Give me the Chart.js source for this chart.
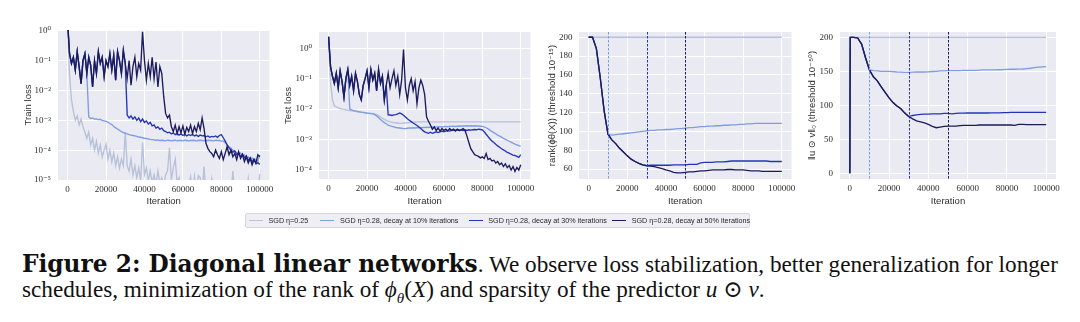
<!DOCTYPE html>
<html><head><meta charset="utf-8">
<script src="https://cdn.jsdelivr.net/npm/chart.js@4.4.1/dist/chart.umd.min.js"></script>
<style>
html,body{margin:0;padding:0;background:#fff;}
body{width:1080px;height:322px;position:relative;overflow:hidden;}
canvas{position:absolute;top:0;}
#legend{position:absolute;left:245px;top:213px;width:505px;height:15px;box-sizing:border-box;background:#eeeef4;border:1px solid #d6d6dc;border-radius:2px;font-family:'Liberation Sans','DejaVu Sans',sans-serif;font-size:7.2px;color:#262626;z-index:5;}
.lg-line{position:absolute;top:6px;height:0;width:14px;}
.lg-text{position:absolute;top:0;line-height:13px;white-space:nowrap;}
.cap{position:absolute;left:22px;font-family:'Liberation Serif','DejaVu Serif',serif;white-space:nowrap;color:#111;line-height:22px;}
#capBold{font-family:'DejaVu Serif','Liberation Serif',serif;font-weight:bold;}
</style></head>
<body>
<div id="legend"></div>
<div id="cap1" class="cap" style="top:253px;"><span id="capBold">Figure 2: Diagonal linear networks</span><span id="capRest">. We observe loss stabilization, better generalization for longer</span></div>
<div id="cap2" class="cap" style="top:278px;">schedules, minimization of the rank of <i>ϕ<sub style="font-size:65%">θ</sub></i>(<i>X</i>) and sparsity of the predictor <i>u</i> ⊙ <i>v</i>.</div>
<script>
// ---------------- DATA ----------------
const seriesNames = ['SGD η=0.25', 'SGD η=0.28, decay at 10% iterations', 'SGD η=0.28, decay at 30% iterations', 'SGD η=0.28, decay at 50% iterations'];
const decayIters = [10000, 30000, 50000];

const xTicks = [0, 20000, 40000, 60000, 80000, 100000];
const xTickLabels = ['0', '20000', '40000', '60000', '80000', '100000'];

const trainTicks = [1e-5, 1e-4, 1e-3, 1e-2, 1e-1, 1];
const trainTickLabels = ['10⁻⁵', '10⁻⁴', '10⁻³', '10⁻²', '10⁻¹', '10⁰'];
const testTicks = [1e-4, 1e-3, 1e-2, 1e-1, 1];
const testTickLabels = ['10⁻⁴', '10⁻³', '10⁻²', '10⁻¹', '10⁰'];
const rankTicks = [60, 80, 100, 120, 140, 160, 180, 200];
const rankTickLabels = ['60', '80', '100', '120', '140', '160', '180', '200'];
const normTicks = [0, 50, 100, 150, 200];
const normTickLabels = ['0', '50', '100', '150', '200'];

const lossIters = [0,1000,2000,3000,4000,5000,6000,7000,8000,9000,
 10000,11000,12000,13000,14000,15000,16000,17000,18000,19000,
 20000,21000,22000,23000,24000,25000,26000,27000,28000,29000,
 30000,31000,32000,33000,34000,35000,36000,37000,38000,39000,
 40000,41000,42000,43000,44000,45000,46000,47000,48000,49000,
 50000,51000,52000,53000,54000,55000,56000,57000,58000,59000,
 60000,61000,62000,63000,64000,65000,66000,67000,68000,69000,
 70000,71000,72000,73000,74000,75000,76000,77000,78000,79000,
 80000,81000,82000,83000,84000,85000,86000,87000,88000,89000,
 90000,91000,92000,93000,94000,95000,96000,97000,98000,99000,
 100000];

// Train loss
const trainSgd025 = [1.5, 0.033, 5e-3, 2e-3, 1e-3, 1.4e-3, 7e-4, 1.1e-3, 6e-4, 4e-4,
 2.5e-4, 4e-4, 1.5e-4, 2.5e-4, 1e-4, 2e-4, 8e-5, 1.5e-4, 6e-5, 1e-4,
 1.6e-4, 5e-5, 1e-4, 4e-5, 8e-5, 3e-5, 6e-5, 2.5e-5, 5e-5, 3e-5,
 4e-4, 3e-5, 2e-5, 5e-5, 1.5e-5, 3e-5, 1.2e-5, 2.5e-5, 1e-5, 1.8e-4,
 1.5e-5, 2.5e-5, 1e-5, 2e-5, 8e-6, 1.5e-5, 7e-6, 2e-5, 8e-6, 1.2e-5,
 6e-6, 1.5e-5, 2e-5, 1.2e-4, 1e-5, 2.5e-5, 5e-5, 8e-6, 1.2e-5, 5e-6,
 4e-6, 8e-6, 3e-6, 6e-6, 1.3e-5, 4e-6, 1.3e-5, 3e-6, 1.4e-5, 1.2e-5,
 4e-6, 2.8e-5, 3e-6, 5e-6, 3e-6, 1.1e-5, 4e-6, 3e-6, 5e-6, 3e-6,
 4e-6, 3e-6, 5e-6, 3e-6, 4e-6, 3e-6, 2e-5, 3e-6, 4e-6, 3e-6,
 5e-6, 3e-6, 4e-6, 3e-6, 1.1e-5, 3e-6, 4e-6, 3e-6, 5e-6, 3e-6,
 1.6e-5];
const trainDecay50 = [2.0, 0.17, 0.08, 0.13, 0.048, 0.2, 0.063, 0.017, 0.1, 0.17,
 0.037, 0.13, 0.07, 0.013, 0.1, 0.037, 0.2, 0.08, 0.13, 0.029,
 0.1, 0.063, 0.17, 0.048, 0.15, 0.022, 0.2, 0.1, 0.037, 0.22,
 0.08, 0.025, 0.1, 0.015, 0.063, 0.13, 0.029, 0.08, 0.048, 0.93,
 0.1, 0.022, 0.08, 0.029, 0.13, 0.025, 0.09, 0.013, 0.063, 0.037,
 0.0063, 0.0017, 0.0012, 0.0015, 6.1e-4, 4.2e-4, 6.9e-4, 3.6e-4, 6.1e-4, 3.8e-4,
 6.5e-4, 3.4e-4, 5.8e-4, 4.2e-4, 6.9e-4, 3.6e-4, 6.1e-4, 4.2e-4, 7.9e-4, 4.8e-4,
 1.2e-3, 5.3e-4, 1.7e-4, 1.15e-4, 8.9e-5, 7.8e-5, 6e-5, 1e-4, 7e-5, 5.3e-5,
 8.9e-5, 4.8e-5, 7.8e-5, 1.3e-4, 7e-5, 1e-4, 6e-5, 7.8e-5, 4.8e-5, 8.9e-5,
 5.3e-5, 7e-5, 4.1e-5, 6e-5, 3.7e-5, 5.3e-5, 3.2e-5, 4.8e-5, 3.7e-5, 7e-5,
 6e-5];
// from 30000 on
const trainDecay30Tail = [0.08, 1.5e-3, 1.2e-3, 1.4e-3, 1.1e-3, 1.3e-3, 1.0e-3, 1.2e-3, 9e-4, 1.1e-3,
 8.5e-4, 9.5e-4, 7.5e-4, 8.5e-4, 6.5e-4, 7e-4, 5.5e-4, 6e-4, 5e-4, 5.5e-4,
 4.5e-4, 4.2e-4, 3.8e-4, 4e-4, 3.5e-4, 3.8e-4, 3.3e-4, 3.6e-4, 3.2e-4, 3.5e-4,
 3.1e-4, 3.4e-4, 3e-4, 3.3e-4, 3.1e-4, 3.4e-4, 3e-4, 3.2e-4, 2.9e-4, 3.2e-4,
 3e-4, 3.1e-4, 2.8e-4, 3e-4, 2.7e-4, 2.9e-4, 2.8e-4, 3e-4, 2.7e-4, 3.1e-4,
 3.3e-4, 2.6e-4, 2e-4, 1.5e-4, 1.2e-4, 1e-4, 8.5e-5, 9.5e-5, 7e-5, 8e-5,
 6e-5, 7.5e-5, 5.5e-5, 6.5e-5, 4.5e-5, 5.5e-5, 4e-5, 5e-5, 3.5e-5, 3.8e-5,
 3.3e-5];
// from 10000 on
const trainDecay10Tail = [0.037, 1.3e-3, 1.15e-3, 1.2e-3, 1.1e-3, 1.12e-3, 1.05e-3, 1.08e-3, 1e-3, 9.6e-4,
 9.2e-4, 8.6e-4, 7.8e-4, 7.2e-4, 6.2e-4, 5.6e-4, 5.1e-4, 4.6e-4, 4.2e-4, 3.9e-4,
 3.7e-4, 3.5e-4, 3.3e-4, 3.2e-4, 3.1e-4, 3e-4, 2.9e-4, 2.75e-4, 2.7e-4, 2.6e-4,
 2.5e-4, 2.45e-4, 2.4e-4, 2.3e-4, 2.25e-4, 2.2e-4, 2.15e-4, 2.2e-4, 2.1e-4, 2.15e-4,
 2.1e-4, 2.05e-4, 2.15e-4, 2.1e-4, 2.05e-4, 2.1e-4, 2.15e-4, 2.05e-4, 2.1e-4, 2.1e-4,
 2.05e-4, 2.15e-4, 2.1e-4, 2.05e-4, 2.1e-4, 2.15e-4, 2.1e-4, 2.05e-4, 2.1e-4, 2.15e-4,
 2.1e-4, 2.05e-4, 2.1e-4, 2.15e-4, 2.1e-4, 2.1e-4, 2.05e-4, 2.15e-4, 2.1e-4, 2.1e-4,
 2e-4, 2e-4, 1.8e-4, 1.5e-4, 1.3e-4, 1.15e-4, 1e-4, 9e-5, 8.5e-5, 7.5e-5,
 8e-5, 6.5e-5, 7e-5, 5.5e-5, 6e-5, 5e-5, 5.5e-5, 4.5e-5, 5e-5, 4.2e-5,
 7e-5];

// Test loss
const testSgd025 = [1.5, 0.08, 0.02, 0.013, 0.012, 0.011, 0.0105, 0.01, 0.0098, 0.0095,
 0.0092, 0.009, 0.0088, 0.0086, 0.0084, 0.0082, 0.008, 0.0078, 0.0077, 0.0076,
 0.0075, 0.0074, 0.0073, 0.0072, 0.007, 0.0066, 0.006, 0.0055, 0.005, 0.0046,
 0.0043, 0.004, 0.0038, 0.0037, 0.0036, 0.0035, 0.0035, 0.0034, 0.0034, 0.0035,
 0.0035, 0.0036, 0.0036, 0.0037, 0.0037, 0.0037, 0.0038, 0.0038, 0.0038, 0.0038,
 0.0038, 0.0038, 0.0038, 0.0038, 0.0038, 0.0038, 0.0038, 0.0038, 0.0038, 0.0038,
 0.0038, 0.0038, 0.0038, 0.0038, 0.0038, 0.0038, 0.0038, 0.0038, 0.0038, 0.0038,
 0.0038, 0.0038, 0.0038, 0.0038, 0.0038, 0.0038, 0.0038, 0.0038, 0.0038, 0.0038,
 0.0038, 0.0038, 0.0038, 0.0038, 0.0038, 0.0038, 0.0038, 0.0038, 0.0038, 0.0038,
 0.0038, 0.0038, 0.0038, 0.0038, 0.0038, 0.0038, 0.0038, 0.0038, 0.0038, 0.0038,
 0.0038];
const testDecay50 = [2.4, 0.25, 0.12, 0.07, 0.15, 0.05, 0.18, 0.08, 0.025, 0.1,
 0.2, 0.06, 0.12, 0.04, 0.15, 0.08, 0.03, 0.02, 0.06, 0.1,
 0.18, 0.05, 0.2, 0.09, 0.15, 0.04, 0.2, 0.07, 0.12, 0.02,
 0.06, 0.15, 0.05, 0.1, 0.18, 0.06, 0.12, 0.03, 0.09, 0.9,
 0.05, 0.02, 0.06, 0.1, 0.04, 0.08, 0.015, 0.05, 0.09, 0.06,
 0.03, 5.5e-3, 4e-3, 3e-3, 2.2e-3, 2.6e-3, 2e-3, 2.4e-3, 1.9e-3, 2.3e-3,
 2e-3, 2.2e-3, 1.9e-3, 2.3e-3, 2e-3, 2.2e-3, 1.9e-3, 2.2e-3, 2e-3, 2.1e-3,
 2.3e-3, 2e-3, 1.3e-3, 8e-4, 5e-4, 4e-4, 3.2e-4, 3e-4, 2.8e-4, 2.5e-4,
 2.7e-4, 2.4e-4, 3.5e-4, 2.2e-4, 2.4e-4, 2e-4, 2.1e-4, 1.7e-4, 1.9e-4, 1.5e-4,
 1.7e-4, 1.3e-4, 1.6e-4, 1.2e-4, 1.4e-4, 1e-4, 1.3e-4, 9e-5, 1.2e-4, 1e-4,
 1.5e-4];
const testDecay30Tail = [0.06, 6.5e-3, 6.4e-3, 6.2e-3, 6.5e-3, 6.6e-3, 7e-3, 7.5e-3, 7e-3, 6.3e-3,
 5.5e-3, 4.8e-3, 4.3e-3, 3.9e-3, 3.5e-3, 3.2e-3, 2.9e-3, 2.6e-3, 2.3e-3, 2e-3,
 1.8e-3, 1.7e-3, 1.6e-3, 1.75e-3, 1.6e-3, 1.7e-3, 1.8e-3, 1.7e-3, 1.8e-3, 1.9e-3,
 1.8e-3, 1.9e-3, 2e-3, 1.9e-3, 2e-3, 2.1e-3, 2e-3, 2.1e-3, 2e-3, 2.1e-3,
 2e-3, 2.1e-3, 2e-3, 2.1e-3, 2.05e-3, 2.1e-3, 2.15e-3, 2.1e-3, 2.2e-3, 2.15e-3,
 2.1e-3, 1.8e-3, 1.5e-3, 1.25e-3, 1.05e-3, 9e-4, 8e-4, 7e-4, 6.2e-4, 5.6e-4,
 5e-4, 4.6e-4, 4.2e-4, 3.8e-4, 3.6e-4, 3.3e-4, 3.1e-4, 3e-4, 2.8e-4, 2.6e-4,
 3.2e-4];
const testDecay10Tail = [0.2, 1e-2, 9.5e-3, 9e-3, 8.8e-3, 8.5e-3, 8.2e-3, 8e-3, 7.8e-3, 7.6e-3,
 7.4e-3, 7.3e-3, 7.1e-3, 7e-3, 6.6e-3, 6e-3, 5.3e-3, 4.6e-3, 4e-3, 3.6e-3,
 3.3e-3, 3e-3, 2.8e-3, 2.7e-3, 2.6e-3, 2.5e-3, 2.45e-3, 2.4e-3, 2.35e-3, 2.3e-3,
 2.3e-3, 2.35e-3, 2.4e-3, 2.4e-3, 2.45e-3, 2.4e-3, 2.45e-3, 2.5e-3, 2.45e-3, 2.5e-3,
 2.5e-3, 2.55e-3, 2.5e-3, 2.55e-3, 2.6e-3, 2.55e-3, 2.6e-3, 2.6e-3, 2.65e-3, 2.6e-3,
 2.65e-3, 2.7e-3, 2.65e-3, 2.7e-3, 2.7e-3, 2.75e-3, 2.7e-3, 2.75e-3, 2.8e-3, 2.75e-3,
 2.8e-3, 2.8e-3, 2.85e-3, 2.8e-3, 2.85e-3, 2.8e-3, 2.85e-3, 2.8e-3, 2.8e-3, 2.75e-3,
 2.7e-3, 2.6e-3, 2.45e-3, 2.25e-3, 2.05e-3, 1.85e-3, 1.7e-3, 1.55e-3, 1.4e-3, 1.3e-3,
 1.2e-3, 1.1e-3, 1.02e-3, 9.5e-4, 8.8e-4, 8.2e-4, 7.6e-4, 7.1e-4, 6.7e-4, 6.3e-4,
 6e-4];

// Rank of phi(X)
const rankIters = [0,2000,4000,6000,8000,10000,12000,14000,16000,18000,
 20000,22000,24000,26000,28000,30000,32000,34000,36000,38000,
 40000,42000,44000,46000,48000,50000,52000,54000,56000,58000,
 60000,62000,64000,66000,68000,70000,72000,74000,76000,78000,
 80000,82000,84000,86000,88000,90000,92000,94000,96000,98000,
 100000];
const rankSgd025 = [200,200,200,200,200,200,200,200,200,200,
 200,200,200,200,200,200,200,200,200,200,
 200,200,200,200,200,200,200,200,200,200,
 200,200,200,200,200,200,200,200,200,200,
 200,200,200,200,200,200,200,200,200,200,
 200];
const rankDecay50 = [200, 200, 188, 157, 122, 97, 91, 87, 82, 78,
 74, 70.5, 68, 66, 64.5, 63.5, 63, 62.5, 61.5, 60.5,
 59, 58, 56.5, 56, 56, 56.5, 57, 57, 57.5, 58,
 58, 58.5, 59, 59, 59, 59, 59.5, 59.5, 59, 59,
 59, 58.5, 58, 58, 58, 57.5, 57.5, 57.5, 57.5, 57.5,
 57.5];
const rankDecay30Tail = [63.5, 64, 64, 64, 64, 64, 64, 64.5, 64.5, 64.5,
 64.5, 65, 65, 65, 66.5, 67, 67, 67, 67.5, 67.5,
 67.5, 68, 68.5, 68.5, 68.5, 68.5, 68.5, 68.5, 68.5, 68.5,
 68.5, 68.5, 68, 68, 68, 68];
const rankDecay10Tail = [97, 96, 96.5, 97, 97.5, 98, 98.5, 99, 99.5, 100,
 100.5, 101, 101, 101.5, 101.5, 102, 102, 102.5, 103, 103,
 103.5, 104, 104, 104.5, 105, 105, 105.5, 105.5, 106, 106,
 106.5, 106.5, 107, 107, 107.5, 107.5, 108, 108, 108.5, 108.5,
 108.5, 108.5, 108.5, 108.5, 108.5, 108.5];

// ||u (.) v||_0
const normIters = [0,200,2000,4000,6000,8000,10000,12000,14000,16000,18000,
 20000,22000,24000,26000,28000,30000,32000,34000,36000,38000,
 40000,42000,44000,46000,48000,50000,52000,54000,56000,58000,
 60000,62000,64000,66000,68000,70000,72000,74000,76000,78000,
 80000,82000,84000,86000,88000,90000,92000,94000,96000,98000,
 100000];
const normSgd025 = [0, 200, 200, 200, 200, 200, 200, 200, 200, 200, 200,
 200,200,200,200,200,200,200,200,200,200,
 200,200,200,200,200,200,200,200,200,200,
 200,200,200,200,200,200,200,200,200,200,
 200,200,200,200,200,200,200,200,200,200,
 200];
const normDecay50 = [0, 200, 200, 199, 190, 170, 152, 142, 136, 127, 119,
 111, 104, 99, 95, 88.5, 83.5, 80, 77, 75.5, 74,
 72, 69, 67, 68, 69, 69.5, 69.5, 69.5, 70, 70.5,
 70.5, 70.5, 70.5, 71, 71, 71, 71, 71, 71, 71,
 71, 71, 70.5, 72, 72, 71.5, 71.5, 71.5, 71.5, 71.5,
 71.5];
const normDecay30Tail = [83.5, 85, 86, 86.5, 87, 87, 87.3, 87.3, 87.5, 88,
 88, 87.5, 88, 88.5, 88.5, 88.7, 88.7, 88.7, 88.7, 88.7,
 88.7, 89, 89, 89, 89.2, 89.2, 89.5, 89.5, 89.7, 89.7,
 89.7, 89.7, 89.7, 89.7, 89.7, 89.7];
const normDecay10Tail = [152, 151, 150.5, 150, 150, 150, 149.5, 149, 148.7, 148.5,
 148.5, 148.7, 149, 149, 149, 149.3, 149.7, 150, 150.5, 150.5,
 151, 151, 151, 151, 151.3, 151.5, 151.5, 151.5, 151.7, 152,
 152, 152, 152, 152.3, 152.5, 152.7, 153, 153, 153.2, 153.4,
 154, 154.5, 155.5, 156, 156.5, 157];

// ---------------- STYLE / BUILD ----------------
const seriesColors = ['#b7c1d9', '#7f9ddf', '#2435b4', '#1c1b5c'];
const TICK_FONT = {family: "'Liberation Serif','DejaVu Serif',serif", size: 9};
const TITLE_FONT = {family: "'Liberation Sans','DejaVu Sans',sans-serif", size: 9.5};
const TXT = '#2e2e2e';
const H = 215;

function pts(iters, vals) { return iters.map((x, i) => ({x, y: vals[i]})); }
function combine(iters, base, tail, start) {
  const i0 = iters.indexOf(start);
  return iters.map((x, i) => ({x, y: i < i0 ? base[i] : tail[i - i0]}));
}
function datasets(iters, sgd, d10, d30, d50, bw) {
  return [
    {data: pts(iters, sgd), borderColor: seriesColors[0], order: 4, borderWidth: bw},
    {data: combine(iters, d50, d10, decayIters[0]), borderColor: seriesColors[1], order: 3, borderWidth: bw},
    {data: combine(iters, d50, d30, decayIters[1]), borderColor: seriesColors[2], order: 2, borderWidth: bw},
    {data: pts(iters, d50), borderColor: seriesColors[3], order: 1, borderWidth: bw},
  ];
}

const bgPlugin = {id: 'bgArea', beforeDraw(chart) {
  const {ctx, chartArea: a} = chart;
  ctx.save(); ctx.fillStyle = '#EAEAF2'; ctx.fillRect(a.left, a.top, a.width, a.height); ctx.restore();
}};
const vlinePlugin = {id: 'vlines', afterDatasetsDraw(chart, args, opts) {
  if (!opts || !opts.show) return;
  const {ctx, chartArea: a, scales: {x}} = chart;
  ctx.save(); ctx.lineWidth = 1; ctx.setLineDash([2.5, 1.5]);
  decayIters.forEach((v, i) => {
    const px = Math.round(x.getPixelForValue(v)) + 0.5;
    ctx.strokeStyle = seriesColors[i + 1];
    ctx.beginPath(); ctx.moveTo(px, a.top); ctx.lineTo(px, a.bottom); ctx.stroke();
  });
  ctx.restore();
}};

function makeChart(c) {
  const cv = document.createElement('canvas');
  cv.width = c.w; cv.height = H;
  cv.style.left = c.left + 'px'; cv.style.width = c.w + 'px'; cv.style.height = H + 'px';
  document.body.appendChild(cv);
  const yTicksV = c.yTicks, yLabels = c.yLabels;
  new Chart(cv, {
    type: 'line',
    data: {datasets: c.datasets},
    options: {
      responsive: false, animation: false, devicePixelRatio: 1,
      layout: {padding: {top: c.top, right: c.right, left: 0, bottom: 0}},
      plugins: {legend: {display: false}, tooltip: {enabled: false}, vlines: {show: !!c.vlines}},
      elements: {point: {radius: 0}, line: {tension: 0, fill: false}},
      scales: {
        x: {
          type: 'linear', min: -5000, max: 105000,
          afterBuildTicks: s => { s.ticks = xTicks.map(v => ({value: v})); },
          afterFit: s => { s.height = H - c.bottom; },
          ticks: {font: TICK_FONT, color: TXT, padding: 4.5, maxRotation: 0, autoSkip: false, callback: (v, i) => xTickLabels[i]},
          grid: {color: '#ffffff', lineWidth: 1, drawTicks: false},
          border: {display: false},
          title: {display: true, text: 'Iteration', font: TITLE_FONT, color: TXT, padding: {top: 0, bottom: 7.6}}
        },
        y: {
          type: c.yType, min: c.yMin, max: c.yMax,
          afterBuildTicks: s => { s.ticks = yTicksV.map(v => ({value: v})); },
          afterFit: s => { s.width = c.yW; },
          ticks: {font: TICK_FONT, color: TXT, padding: c.yPad, autoSkip: false, callback: (v, i) => yLabels[i]},
          grid: {color: '#ffffff', lineWidth: 1, drawTicks: false},
          border: {display: false},
          title: {display: true, text: c.yTitle, font: TITLE_FONT, color: TXT, padding: {top: c.yTitlePad, bottom: 0}}
        }
      }
    },
    plugins: [bgPlugin, vlinePlugin]
  });
}

makeChart({left: 0, w: 278, top: 30, bottom: 180, right: 5, yW: 58, yPad: 7, yTitlePad: 22.6,
  yType: 'logarithmic', yMin: 1e-5, yMax: 1.06, yTicks: trainTicks, yLabels: trainTickLabels, yTitle: 'Train loss',
  datasets: datasets(lossIters, trainSgd025, trainDecay10Tail, trainDecay30Tail, trainDecay50, 1.35)});
makeChart({left: 278, w: 261, top: 32, bottom: 179, right: 6, yW: 41, yPad: 7, yTitlePad: 4.6,
  yType: 'logarithmic', yMin: 5.07e-5, yMax: 3.42, yTicks: testTicks, yLabels: testTickLabels, yTitle: 'Test loss',
  datasets: datasets(lossIters, testSgd025, testDecay10Tail, testDecay30Tail, testDecay50, 1.35)});
makeChart({left: 539, w: 261, top: 32, bottom: 179, right: 4, yW: 40, yPad: 6.5, yTitlePad: 8,
  yType: 'linear', yMin: 49.4, yMax: 205.6, yTicks: rankTicks, yLabels: rankTickLabels, yTitle: 'rank(ϕθ(X)) (threshold 10⁻¹⁵)',
  vlines: true,
  datasets: datasets(rankIters, rankSgd025, rankDecay10Tail, rankDecay30Tail, rankDecay50, 1.3)});
makeChart({left: 800, w: 280, top: 32, bottom: 179, right: 24, yW: 40, yPad: 7, yTitlePad: 7,
  yType: 'linear', yMin: -8.4, yMax: 207.8, yTicks: normTicks, yLabels: normTickLabels, yTitle: '‖u ⊙ v‖₀ (threshold 10⁻⁵⁰)',
  vlines: true,
  datasets: datasets(normIters, normSgd025, normDecay10Tail, normDecay30Tail, normDecay50, 1.3)});

// Legend (HTML)
const legendLinePos = [3, 74.4, 222.7, 366];
const legendTextPos = [22.5, 94, 242.3, 385.7];
const lg = document.getElementById('legend');
seriesNames.forEach((name, i) => {
  const l = document.createElement('div');
  l.className = 'lg-line'; l.style.left = legendLinePos[i] + 'px'; l.style.borderTop = '1.3px solid ' + seriesColors[i];
  lg.appendChild(l);
  const t = document.createElement('div');
  t.className = 'lg-text'; t.style.left = legendTextPos[i] + 'px'; t.textContent = name;
  lg.appendChild(t);
});

// Caption sizing: line 2 sets the regular size, the bold run fills line 1
const cap1 = document.getElementById('cap1'), cap2 = document.getElementById('cap2');
const capBold = document.getElementById('capBold'), capRest = document.getElementById('capRest');
cap2.style.fontSize = '19px';
const w2 = cap2.getBoundingClientRect().width;
const fs = 19 * 743 / w2;
cap2.style.fontSize = fs + 'px'; cap1.style.fontSize = fs + 'px';
capBold.style.fontSize = fs + 'px';
const wr = capRest.getBoundingClientRect().width;
const wb = capBold.getBoundingClientRect().width;
capBold.style.fontSize = (fs * (1036 - wr) / wb) + 'px';
</script>
</body></html>
